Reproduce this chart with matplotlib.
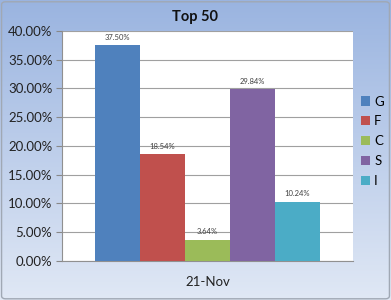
import numpy as np
import matplotlib
matplotlib.use("Agg")
import matplotlib.pyplot as plt
from matplotlib.patches import FancyBboxPatch
from matplotlib.ticker import PercentFormatter

plt.rcParams['font.family'] = ['Lato', 'DejaVu Sans']

# data
categories = ['21-Nov']
series = ['G', 'F', 'C', 'S', 'I']
values = [37.50, 18.54, 3.64, 29.84, 10.24]
colors = ['#4F81BD', '#C0504D', '#9BBB59', '#8064A2', '#4BACC6']

fig = plt.figure(figsize=(3.91, 3.00), dpi=100)

# gradient background
bg = fig.add_axes([0, 0, 1, 1], zorder=-10)
grad = np.linspace(0, 1, 256).reshape(-1, 1)
top_c = np.array([0x9a, 0xb4, 0xe0]) / 255
bot_c = np.array([0xe0, 0xe8, 0xf5]) / 255
img = top_c[None, None, :] * (1 - grad[..., None]) + bot_c[None, None, :] * grad[..., None]
bg.imshow(img, aspect='auto', extent=[0, 1, 0, 1])
bg.add_patch(FancyBboxPatch((0.004, 0.004), 0.992, 0.99, boxstyle="round,pad=0,rounding_size=0.01",
                            fill=False, edgecolor='#a0a8b4', linewidth=1.0, transform=bg.transAxes))
bg.set_xlim(0, 1)
bg.set_ylim(0, 1)
bg.axis('off')

ax = fig.add_axes([0.159, 0.13, 0.744, 0.767])
ax.set_facecolor('white')

bw = 0.1546
start = 0.5 - bw * len(series) / 2
for i, (s, v, c) in enumerate(zip(series, values, colors)):
    x = start + bw * (i + 0.5)
    ax.bar(x, v, width=bw, color=c, label=s, zorder=3)
    ax.text(x, v + 0.8, '%.2f%%' % v, ha='center', va='bottom', fontsize=5.5, color='#404040', zorder=4)

ax.set_xlim(0, 1)
ax.set_ylim(0, 40)
ax.set_yticks(np.arange(0, 40.1, 5))
ax.yaxis.set_major_formatter(PercentFormatter(decimals=2))
ax.set_xticks([0.5])
ax.set_xticklabels(categories)
ax.tick_params(axis='y', length=4, color='#888888', labelsize=9.5, pad=3, labelcolor='#222222')
ax.tick_params(axis='x', length=0, labelsize=9.5, pad=11, labelcolor='#222222')
ax.grid(axis='y', color='#a0a0a0', linewidth=0.8, zorder=0)
for sp in ['top', 'right']:
    ax.spines[sp].set_visible(False)
for sp in ['left', 'bottom']:
    ax.spines[sp].set_color('#909090')
    ax.spines[sp].set_linewidth(0.8)

fig.suptitle('Top 50', fontsize=10.5, fontweight='bold', x=0.5, y=0.965, color='#111111')

leg = ax.legend(loc='center left', bbox_to_anchor=(1.0, 0.52), frameon=False, fontsize=9.5,
                handlelength=0.7, handleheight=0.7, handletextpad=0.3, labelspacing=0.6,
                borderaxespad=0.2)

fig.savefig('out.png', dpi=100)
